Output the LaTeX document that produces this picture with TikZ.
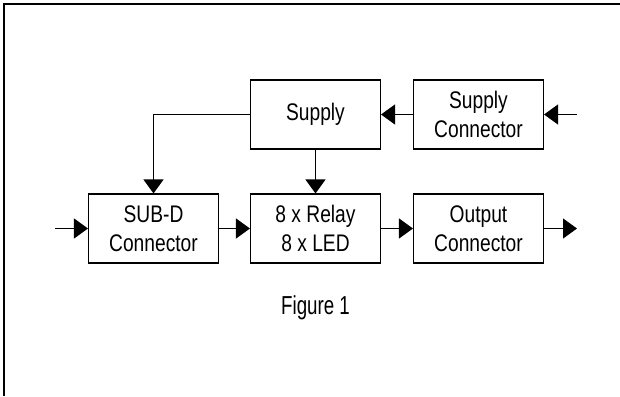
\documentclass[tikz,border=0pt]{standalone}
\usepackage{fontspec}
\setmainfont{Liberation Sans}[FakeStretch=0.8]
\newfontfamily\figfont{Liberation Sans}[FakeStretch=0.72]
\usetikzlibrary{arrows.meta}
\begin{document}
\begin{tikzpicture}[x=1pt,y=-1pt,
  blk/.style={draw,line width=1.1pt,minimum width=130pt,minimum height=69pt,inner sep=0pt,align=center,
    font=\fontsize{24}{29}\selectfont},
  conn/.style={line width=1.1pt,-{Triangle[length=14pt,width=20pt]}},
  frame/.style={line width=1.5pt}]
\useasboundingbox (0,0) rectangle (620,396);
\draw[frame] (4,396) -- (4,4) -- (620,4);
\node[blk] (supply) at (315.5,114.5) {Supply};
\node[blk] (supcon) at (478.5,114.5) {Supply\\Connector};
\node[blk] (subd) at (153.5,228.5) {SUB-D\\Connector};
\node[blk] (relay) at (315.5,228.5) {8 x Relay\\8 x LED};
\node[blk] (output) at (478.5,228.5) {Output\\Connector};
\coordinate (inl) at (55,228.5);
\coordinate (outr) at (577,228.5);
\coordinate (supin) at (577,114.5);
\draw[conn] (inl) -- (subd.west);
\draw[conn] (subd) -- (relay);
\draw[conn] (relay) -- (output);
\draw[conn] (output.east) -- (outr);
\draw[conn] (supin) -- (supcon.east);
\draw[conn] (supcon) -- (supply);
\draw[conn] (supply) -- (relay);
\draw[conn] (supply.west) -| (subd.north);
\node[font=\figfont\fontsize{26}{30}\selectfont] (fig) at (315.5,308) {Figure 1};
\end{tikzpicture}
\end{document}
